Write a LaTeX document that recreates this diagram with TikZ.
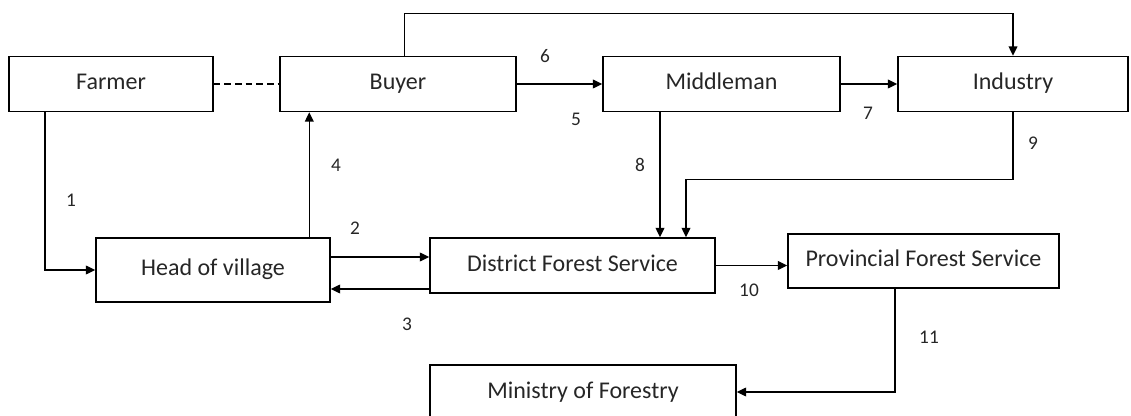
\documentclass[tikz,border=0pt]{standalone}
\usepackage{fontspec}
\setmainfont{Carlito}
\usetikzlibrary{arrows.meta}
\begin{document}
\begin{tikzpicture}[x=0.75pt,y=-0.75pt,
  box/.style={draw, line width=1.1pt, inner sep=0pt, font=\fontsize{18}{20}\selectfont, text=black!85, text height=12.5pt, text depth=3.5pt},
  conn/.style={line width=1pt, -{Triangle[length=7pt,width=6.5pt]}},
  num/.style={font=\fontsize{14.5}{17}\selectfont, text=black!85, inner sep=0pt}]
\useasboundingbox (0,0) rectangle (1131,416);
% boxes
\node[box, minimum width=153pt, minimum height=41.25pt] (farmer) at (111,84) {Farmer};
\node[box, minimum width=177pt, minimum height=41.25pt] (buyer) at (398,84) {Buyer};
\node[box, minimum width=177.75pt, minimum height=41.25pt] (middleman) at (721.5,84) {Middleman};
\node[box, minimum width=172.5pt, minimum height=41.25pt] (industry) at (1013,84) {Industry};
\node[box, minimum width=175.5pt, minimum height=48pt] (head) at (213,270) {Head of village};
\node[box, minimum width=213.75pt, minimum height=41.25pt] (district) at (572.5,265.5) {District Forest Service};
\node[box, minimum width=203.25pt, minimum height=40.5pt] (provincial) at (923.5,261) {Provincial Forest Service};
\node[box, minimum width=229.5pt, minimum height=40.5pt] (ministry) at (583,392) {Ministry of Forestry};
% helper coordinates
\coordinate (c1) at ([xshift=-49.5pt]farmer.south);
\coordinate (c4) at ([xshift=22.5pt]buyer.south west);
\coordinate (c6) at ([xshift=93.75pt]buyer.north west);
\coordinate (c8) at ([xshift=-46.125pt]middleman.south);
\coordinate (c9) at ([xshift=85.125pt]district.north);
\coordinate (c2) at ([yshift=9.75pt]head.east);
\coordinate (c3) at ([yshift=-14.25pt]head.east);
\coordinate (c11) at ([xshift=-21.375pt]provincial.south);
% connectors
\draw[line width=1pt, dashed, dash pattern=on 5pt off 3pt] (farmer.east) -- (buyer.west);
\draw[conn] (c1) |- (head.west);
\draw[conn] (c4 |- head.north) -- (c4);
\draw[conn] (c6) -- ++(0,-42.5) -| (industry.north);
\draw[conn] (buyer.east) -- (middleman.west);
\draw[conn] (middleman.east) -- (industry.west);
\draw[conn] (c8) -- (c8 |- district.north);
\draw[conn] (industry.south) -- ++(0,67.5) -| (c9);
\draw[conn] (c2) -- (c2 -| district.west);
\draw[conn] (c3 -| district.west) -- (c3);
\draw[conn] (district.east) -- (district.east -| provincial.west);
\draw[conn] (c11) |- (ministry.east);
% labels
\node[num] (n1) at (71,200) {1};
\node[num] (n2) at (355,228) {2};
\node[num] (n3) at (407,324) {3};
\node[num] (n4) at (336,165) {4};
\node[num] (n5) at (576,119) {5};
\node[num] (n6) at (545,56) {6};
\node[num] (n7) at (868,113) {7};
\node[num] (n8) at (640,165) {8};
\node[num] (n9) at (1033,143) {9};
\node[num] (n10) at (749,290) {10};
\node[num] (n11) at (929,337) {11};
\end{tikzpicture}
\end{document}
